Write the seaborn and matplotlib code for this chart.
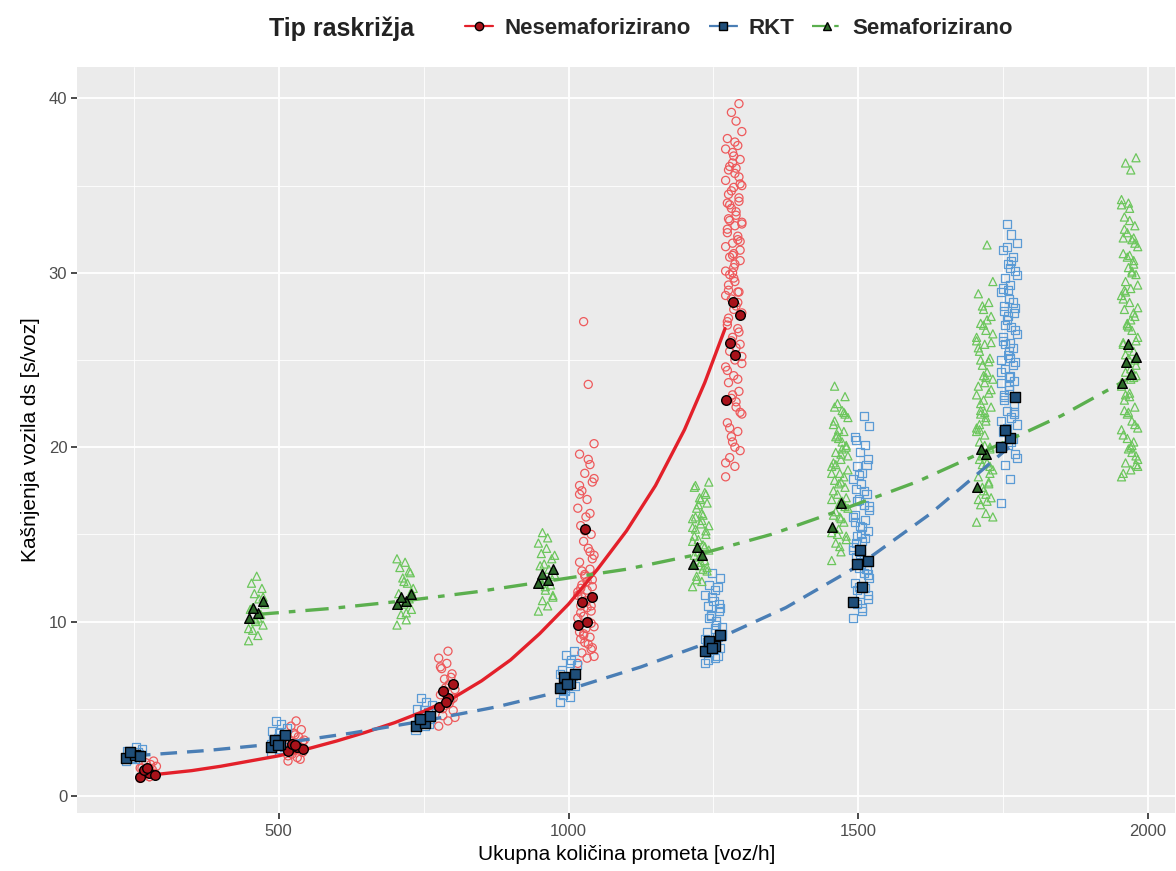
import pandas as pd
import matplotlib.pyplot as plt
from matplotlib.lines import Line2D
from matplotlib.ticker import MultipleLocator
import seaborn as sns

# Vrste raskrižja
tipovi = ["Nesemaforizirano", "RKT", "Semaforizirano"]

# Pojedinačna mjerenja (šuplje oznake): položaj prometa i kašnjenja po skupini
red_x = [275, 530, 790, 1030, 1285]
red_y = [
    [1.0, 1.1, 1.2, 1.3, 1.4, 1.5, 1.6, 1.7, 1.8, 1.9, 2.0, 1.2, 1.4, 1.6, 1.1, 1.3],
    [2.0, 2.2, 2.4, 2.5, 2.6, 2.8, 3.0, 3.2, 3.4, 3.6, 3.8, 4.0, 4.3, 2.3, 2.7, 2.9,
     3.1, 3.5, 2.1, 2.6],
    [4.0, 4.3, 4.6, 4.9, 5.2, 5.5, 5.8, 6.1, 6.4, 6.7, 7.0, 7.3, 7.6, 7.9, 8.3, 5.0,
     5.6, 6.2, 6.8, 7.4, 4.5, 5.3, 6.0],
    [7.6, 7.9, 8.2, 8.5, 8.8, 9.1, 9.4, 9.7, 10.0, 10.3, 10.6, 10.9, 11.2, 11.5, 11.8,
     12.1, 12.4, 12.7, 13.0, 13.4, 13.8, 14.2, 14.6, 15.0, 15.5, 16.0, 16.5, 17.0,
     17.5, 18.0, 18.5, 19.0, 19.6, 20.2, 23.6, 27.2, 8.4, 9.0, 9.6, 10.2, 10.8, 11.4,
     12.0, 12.6, 14.0, 17.8, 8.0, 8.7, 9.3, 9.9, 10.5, 11.1, 11.7, 12.3, 12.9, 13.6,
     15.2, 16.2, 17.3, 18.2, 19.3, 9.2, 10.9, 11.9],
    [18.3, 18.9, 19.4, 19.8, 20.3, 20.9, 21.4, 21.9, 22.3, 22.8, 23.2, 23.7, 24.1,
     24.6, 25.0, 25.5, 25.9, 26.3, 26.8, 27.2, 27.7, 28.1, 28.5, 28.9, 29.3, 29.7,
     30.1, 30.5, 30.9, 31.3, 31.7, 32.1, 32.5, 32.9, 33.3, 33.7, 34.1, 34.5, 34.9,
     35.3, 35.7, 36.1, 36.5, 36.9, 37.3, 37.7, 38.1, 38.7, 39.2, 39.7, 29.0, 30.3,
     31.5, 32.7, 33.9, 35.1, 36.3, 28.3, 27.0, 24.8, 22.6, 20.6, 34.3, 33.1, 31.1,
     19.1, 20.0, 21.1, 22.0, 23.0, 23.9, 24.4, 25.2, 25.7, 26.1, 26.6, 27.4, 27.9,
     28.7, 29.5, 29.9, 30.7, 31.0, 31.9, 32.3, 32.8, 33.5, 34.7, 35.5, 35.9, 36.7,
     37.1, 37.5, 33.0, 31.8, 30.0, 28.9, 34.0, 35.0, 36.0],
]
blue_x = [250, 500, 750, 1000, 1250, 1505, 1760]
blue_y = [
    [2.0, 2.1, 2.2, 2.3, 2.4, 2.5, 2.6, 2.7, 2.8, 2.2, 2.4, 2.6],
    [2.5, 2.7, 2.9, 3.1, 3.3, 3.5, 3.7, 3.9, 4.1, 4.3, 2.8, 3.2, 3.6, 3.0],
    [3.8, 4.0, 4.2, 4.4, 4.6, 4.8, 5.0, 5.2, 5.4, 5.6, 4.1, 4.5, 4.9],
    [5.4, 5.7, 6.0, 6.3, 6.6, 6.9, 7.2, 7.5, 7.8, 8.1, 8.3, 5.8, 6.4, 7.0, 7.6, 6.1],
    [7.6, 7.9, 8.2, 8.5, 8.8, 9.1, 9.4, 9.7, 10.0, 10.3, 10.6, 10.9, 11.2, 11.5, 11.8,
     12.1, 12.5, 12.8, 8.0, 8.6, 9.2, 9.8, 10.4, 11.0, 7.8, 8.4, 9.0, 9.6, 10.2,
     10.8, 11.4, 12.0, 8.8, 9.3],
    [10.2, 10.6, 11.0, 11.3, 11.6, 11.9, 12.2, 12.5, 12.8, 13.1, 13.4, 13.7, 14.0,
     14.3, 14.6, 14.9, 15.2, 15.5, 15.8, 16.1, 16.4, 16.7, 17.0, 17.3, 17.6, 17.9,
     18.2, 18.5, 18.9, 19.3, 19.7, 20.1, 20.6, 21.2, 21.8, 12.0, 13.0, 14.5, 15.0,
     16.0, 10.8, 11.8, 12.7, 13.9, 14.8, 15.7, 16.6, 17.5, 18.4, 19.0, 20.4, 13.3,
     14.1, 15.4, 16.9, 11.5],
    [16.8, 18.2, 19.0, 19.6, 20.1, 20.5, 20.9, 21.3, 21.7, 22.1, 22.5, 22.9, 23.3,
     23.7, 24.1, 24.5, 24.9, 25.3, 25.7, 26.1, 26.5, 26.9, 27.3, 27.7, 28.1, 28.5,
     28.9, 29.3, 29.7, 30.1, 30.5, 30.9, 31.3, 31.7, 32.2, 32.8, 22.0, 23.0, 24.0,
     25.0, 26.0, 27.0, 28.0, 29.0, 24.7, 26.3, 19.4, 20.3, 21.1, 21.9, 22.7, 23.5,
     24.3, 25.1, 25.9, 26.7, 27.5, 28.3, 29.1, 29.9, 30.7, 31.5, 23.8, 27.8, 25.5,
     21.5, 30.3],
]
green_x = [462, 718, 962, 1228, 1468, 1718, 1968]
green_y = [
    [8.9, 9.2, 9.5, 9.8, 10.1, 10.4, 10.7, 11.0, 11.3, 11.6, 11.9, 12.2, 12.6, 9.6,
     10.2, 10.8, 11.4, 10.0],
    [9.8, 10.1, 10.4, 10.7, 11.0, 11.3, 11.6, 11.9, 12.2, 12.5, 12.8, 13.1, 13.4,
     13.6, 10.5, 11.1, 11.7, 12.3, 12.9],
    [10.6, 10.9, 11.2, 11.5, 11.8, 12.1, 12.4, 12.7, 13.0, 13.3, 13.6, 13.9, 14.2,
     14.5, 14.8, 15.1, 11.4, 12.0, 12.6, 13.2, 13.8],
    [12.0, 12.3, 12.6, 12.9, 13.2, 13.5, 13.8, 14.1, 14.4, 14.7, 15.0, 15.3, 15.6,
     15.9, 16.2, 16.5, 16.8, 17.1, 17.4, 17.7, 18.0, 13.0, 14.0, 15.2, 16.0, 17.0,
     14.6, 15.8, 12.4, 13.1, 13.7, 14.3, 14.9, 15.5, 16.1, 16.7, 17.3, 17.8, 13.4,
     15.4],
    [13.5, 14.0, 14.5, 14.9, 15.3, 15.7, 16.1, 16.5, 16.9, 17.3, 17.7, 18.1, 18.5,
     18.9, 19.3, 19.7, 20.1, 20.5, 20.9, 21.3, 21.7, 22.1, 22.5, 22.9, 23.5, 16.0,
     17.0, 18.0, 19.0, 20.0, 21.0, 22.0, 17.5, 18.7, 19.9, 15.0, 16.6, 21.5, 14.3,
     15.1, 15.9, 16.3, 17.1, 17.9, 18.3, 19.1, 19.5, 20.3, 20.7, 21.9, 22.3, 16.8,
     18.5, 19.6, 20.6, 14.7],
    [15.7, 16.2, 16.7, 17.1, 17.5, 17.9, 18.3, 18.7, 19.1, 19.5, 19.9, 20.3, 20.7,
     21.1, 21.5, 21.9, 22.3, 22.7, 23.1, 23.5, 23.9, 24.3, 24.7, 25.1, 25.5, 25.9,
     26.3, 26.7, 27.1, 27.5, 27.9, 28.3, 28.8, 29.5, 31.6, 19.0, 20.0, 21.0, 22.0,
     23.0, 24.0, 25.0, 26.0, 27.0, 18.0, 17.0, 16.0, 16.9, 17.7, 18.5, 19.3, 20.1,
     20.9, 21.7, 22.5, 23.3, 24.1, 24.9, 25.7, 26.5, 27.3, 28.1, 18.9, 21.3, 23.7,
     26.1, 17.3, 22.1],
    [18.3, 18.7, 19.1, 19.5, 19.9, 20.3, 20.7, 21.1, 21.5, 21.9, 22.3, 22.7, 23.1,
     23.5, 23.9, 24.3, 24.7, 25.1, 25.5, 25.9, 26.3, 26.7, 27.1, 27.5, 27.9, 28.3,
     28.7, 29.1, 29.5, 29.9, 30.3, 30.7, 31.1, 31.5, 31.9, 32.3, 32.7, 33.2, 33.7,
     34.2, 35.9, 36.3, 36.6, 22.0, 24.0, 26.0, 28.0, 30.0, 27.0, 25.0, 29.0, 31.0,
     21.0, 20.0, 23.0, 19.0, 34.0, 32.0, 18.5, 18.9, 19.7, 20.5, 21.3, 22.1, 22.9,
     23.7, 24.5, 25.3, 26.1, 26.9, 27.7, 28.5, 29.3, 30.1, 30.9, 31.7, 32.5, 33.0,
     33.9, 27.3, 28.9, 24.1, 25.7, 30.5, 32.0, 19.3, 20.1],
]

# Srednje vrijednosti (pune oznake) po skupini
red_mean = [[1.1, 1.3, 1.5, 1.2, 1.6], [2.6, 2.8, 3.0, 2.7, 2.9],
            [5.1, 5.6, 6.0, 6.4, 5.4], [9.8, 10.0, 11.1, 11.4, 15.3],
            [22.7, 25.3, 26.0, 27.6, 28.3]]
blue_mean = [[2.2, 2.35, 2.5, 2.3], [2.8, 3.0, 3.2, 3.5, 2.9], [4.0, 4.2, 4.4, 4.6],
             [6.2, 6.5, 6.8, 7.0, 6.4], [8.3, 8.6, 8.9, 9.2, 8.5],
             [11.1, 12.0, 13.3, 13.5, 14.1], [20.0, 20.5, 21.0, 22.9]]
green_mean = [[10.2, 10.5, 10.8, 11.2], [11.0, 11.2, 11.4, 11.6],
              [12.2, 12.4, 12.7, 13.0], [13.3, 13.8, 14.3], [15.4, 16.8],
              [17.7, 19.6, 19.9], [23.7, 24.2, 24.9, 25.2, 25.9]]

# Krivulje trenda (očitane sa slike)
red_line_x = [280, 350, 400, 450, 500, 550, 600, 650, 700, 750, 800, 850, 900, 950,
              1000, 1050, 1100, 1150, 1200, 1235, 1270]
red_line_y = [1.2, 1.45, 1.7, 2.0, 2.3, 2.7, 3.15, 3.65, 4.2, 4.85, 5.6, 6.6, 7.8,
              9.3, 11.0, 13.0, 15.2, 17.8, 21.0, 23.7, 26.8]
blue_line_x = [250, 375, 500, 625, 750, 875, 1000, 1125, 1250, 1375, 1500, 1625, 1760]
blue_line_y = [2.3, 2.6, 3.0, 3.6, 4.3, 5.1, 6.1, 7.4, 8.9, 10.8, 13.2, 16.2, 20.0]
green_line_x = [460, 590, 720, 840, 960, 1100, 1230, 1350, 1470, 1600, 1720, 1850, 1970]
green_line_y = [10.4, 10.75, 11.2, 11.7, 12.3, 13.0, 13.9, 15.0, 16.4, 18.0, 19.8,
                21.8, 24.0]

# pomak točaka unutar skupine (jitter)
jit = [-14, 2, -7, 11, -2, 7, -11, 14, 4, -4, 9, -9, 0]


def to_frame(xs, ys, tip):
    rows = []
    for cx, vals in zip(xs, ys):
        for i, v in enumerate(vals):
            rows.append({"x": cx + jit[i % len(jit)], "y": v, "tip": tip})
    return pd.DataFrame(rows)


hollow = pd.concat([to_frame(red_x, red_y, tipovi[0]),
                    to_frame(blue_x, blue_y, tipovi[1]),
                    to_frame(green_x, green_y, tipovi[2])])
means = pd.concat([to_frame(red_x, red_mean, tipovi[0]),
                   to_frame(blue_x, blue_mean, tipovi[1]),
                   to_frame(green_x, green_mean, tipovi[2])])
lines = pd.concat([
    pd.DataFrame({"x": red_line_x, "y": red_line_y, "tip": tipovi[0]}),
    pd.DataFrame({"x": blue_line_x, "y": blue_line_y, "tip": tipovi[1]}),
    pd.DataFrame({"x": green_line_x, "y": green_line_y, "tip": tipovi[2]}),
])

# stilovi
edge_col = {"Nesemaforizirano": "#EE5A5C", "RKT": "#5B9BD5", "Semaforizirano": "#6CC65C"}
fill_col = {"Nesemaforizirano": "#A8121A", "RKT": "#1F4E79", "Semaforizirano": "#2E6B2A"}
line_col = {"Nesemaforizirano": "#E3202A", "RKT": "#4A7EB5", "Semaforizirano": "#5BAF4E"}
markers = {"Nesemaforizirano": "o", "RKT": "s", "Semaforizirano": "^"}
dashes = {"Nesemaforizirano": "-", "RKT": (0, (5, 3)), "Semaforizirano": (0, (7, 3, 2, 3))}

sns.set_theme(style="darkgrid", rc={
    "axes.facecolor": "#EBEBEB",
    "grid.color": "white",
})
plt.rcParams["font.family"] = ["Liberation Sans", "DejaVu Sans"]

fig = plt.figure(figsize=(11.76, 8.71), dpi=100)
ax = fig.add_axes([0.0655, 0.0666, 0.934, 0.8564])

# šuplje oznake (pojedinačna mjerenja)
for t in tipovi:
    d = hollow[hollow["tip"] == t]
    sns.scatterplot(data=d, x="x", y="y", marker=markers[t], s=34,
                    facecolors="none", edgecolors=edge_col[t], linewidth=0.9,
                    ax=ax, legend=False, zorder=2)

# krivulje
for t in tipovi:
    d = lines[lines["tip"] == t]
    sns.lineplot(data=d, x="x", y="y", sort=False, estimator=None,
                 color=line_col[t], linewidth=2.4, linestyle=dashes[t],
                 ax=ax, legend=False, zorder=3)

# pune oznake (srednje vrijednosti)
for t in tipovi:
    d = means[means["tip"] == t]
    sns.scatterplot(data=d, x="x", y="y", marker=markers[t], s=48,
                    color=fill_col[t], edgecolor="black", linewidth=1.0,
                    ax=ax, legend=False, zorder=4)

ax.set_xlim(152, 2047)
ax.set_ylim(-0.98, 41.8)
ax.xaxis.set_major_locator(MultipleLocator(500))
ax.xaxis.set_minor_locator(MultipleLocator(250))
ax.yaxis.set_major_locator(MultipleLocator(10))
ax.yaxis.set_minor_locator(MultipleLocator(5))
ax.grid(which="major", color="white", linewidth=1.3)
ax.grid(which="minor", color="white", linewidth=0.6)
for s in ax.spines.values():
    s.set_visible(False)
ax.tick_params(axis="both", which="major", labelsize=12, labelcolor="#4D4D4D",
               length=4, color="#333333", direction="out")
ax.tick_params(which="minor", length=0)
ax.tick_params(axis="x", bottom=True, pad=4)
ax.tick_params(axis="y", left=True, pad=3)
ax.set_xlabel("Ukupna količina prometa [voz/h]", fontsize=15, color="black", labelpad=4)
ax.set_ylabel("Kašnjenja vozila ds [s/voz]", fontsize=15, color="black", labelpad=6)

# legenda na vrhu
fig.text(0.229, 0.967, "Tip raskrižja", fontsize=18, fontweight="bold",
         color="#222222", ha="left", va="center")
handles = [Line2D([0], [0], color=line_col[t], linestyle=dashes[t], linewidth=1.6,
                  marker=markers[t], markersize=6, markerfacecolor=fill_col[t],
                  markeredgecolor="black")
           for t in tipovi]
fig.legend(handles, tipovi, loc="center left", bbox_to_anchor=(0.378, 0.967),
           ncol=3, frameon=False, handlelength=1.3,
           handletextpad=0.5, columnspacing=0.8,
           prop={"weight": "bold", "size": 16})

plt.savefig("out.png", dpi=100)
plt.close()
